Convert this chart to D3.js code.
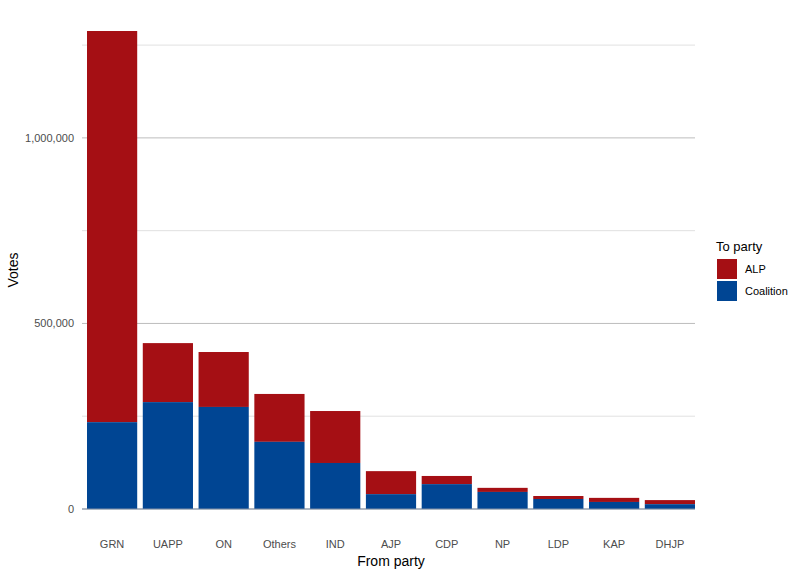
<!DOCTYPE html>
<html><head><meta charset="utf-8">
<script src="https://cdn.jsdelivr.net/npm/d3@7"></script>
<style>body{margin:0;background:#fff}text{font-family:Arial,"Liberation Sans",sans-serif}</style>
</head><body><svg id="c" width="800" height="574"></svg>
<script>
const categories = ["GRN","UAPP","ON","Others","IND","AJP","CDP","NP","LDP","KAP","DHJP"];
const coalition = [234000,288000,275000,181000,124000,40000,67000,46000,27000,19000,13000];
const alp = [1054000,159000,148000,129000,140000,62000,22000,11000,8000,11000,11000];
const yTicks = [0,500000,1000000];
const minorTicks = [250000,750000,1250000];
const parties = ["ALP","Coalition"];
const colors = {ALP:"#A50F14", Coalition:"#004593"};

const svg = d3.select("#c");
const x = d3.scaleBand().domain(categories).range([87,695]).paddingInner(0.1).paddingOuter(0);
const y = d3.scaleLinear().domain([0,1288000]).range([509,31]);
const fmt = d3.format(",");

svg.selectAll(".mg").data(minorTicks).join("line").attr("x1",82).attr("x2",695)
  .attr("y1",d=>y(d)).attr("y2",d=>y(d)).attr("stroke","#d9d9d9").attr("stroke-width",0.8);
svg.selectAll(".g").data(yTicks).join("line").attr("x1",82).attr("x2",695)
  .attr("y1",d=>y(d)).attr("y2",d=>y(d)).attr("stroke","#bdbdbd").attr("stroke-width",1);
svg.selectAll(".yl").data(yTicks).join("text").attr("x",74).attr("y",d=>y(d)+4)
  .attr("text-anchor","end").attr("font-size",11).attr("fill","#4d4d4d").text(fmt);

categories.forEach((c,i)=>{
  const bw = x.bandwidth();
  svg.append("rect").attr("x",x(c)).attr("width",bw).attr("y",y(coalition[i]+alp[i]))
    .attr("height",y(coalition[i])-y(coalition[i]+alp[i])).attr("fill",colors.ALP);
  svg.append("rect").attr("x",x(c)).attr("width",bw).attr("y",y(coalition[i]))
    .attr("height",y(0)-y(coalition[i])).attr("fill",colors.Coalition);
  svg.append("text").attr("x",x(c)+bw/2).attr("y",548).attr("text-anchor","middle")
    .attr("font-size",11).attr("fill","#4d4d4d").text(c);
});
svg.append("line").attr("x1",82).attr("x2",695).attr("y1",509).attr("y2",509).attr("stroke","#7f8fa6");

svg.append("text").attr("x",391).attr("y",566).attr("text-anchor","middle").attr("font-size",14).text("From party");
svg.append("text").attr("transform","translate(18,270) rotate(-90)").attr("text-anchor","middle").attr("font-size",14).text("Votes");

svg.append("text").attr("x",716).attr("y",251).attr("font-size",13).text("To party");
parties.forEach((p,i)=>{
  svg.append("rect").attr("x",717).attr("y",259+i*22).attr("width",20).attr("height",20).attr("fill",colors[p]);
  svg.append("text").attr("x",745).attr("y",273+i*22).attr("font-size",11).text(p);
});
</script></body></html>
